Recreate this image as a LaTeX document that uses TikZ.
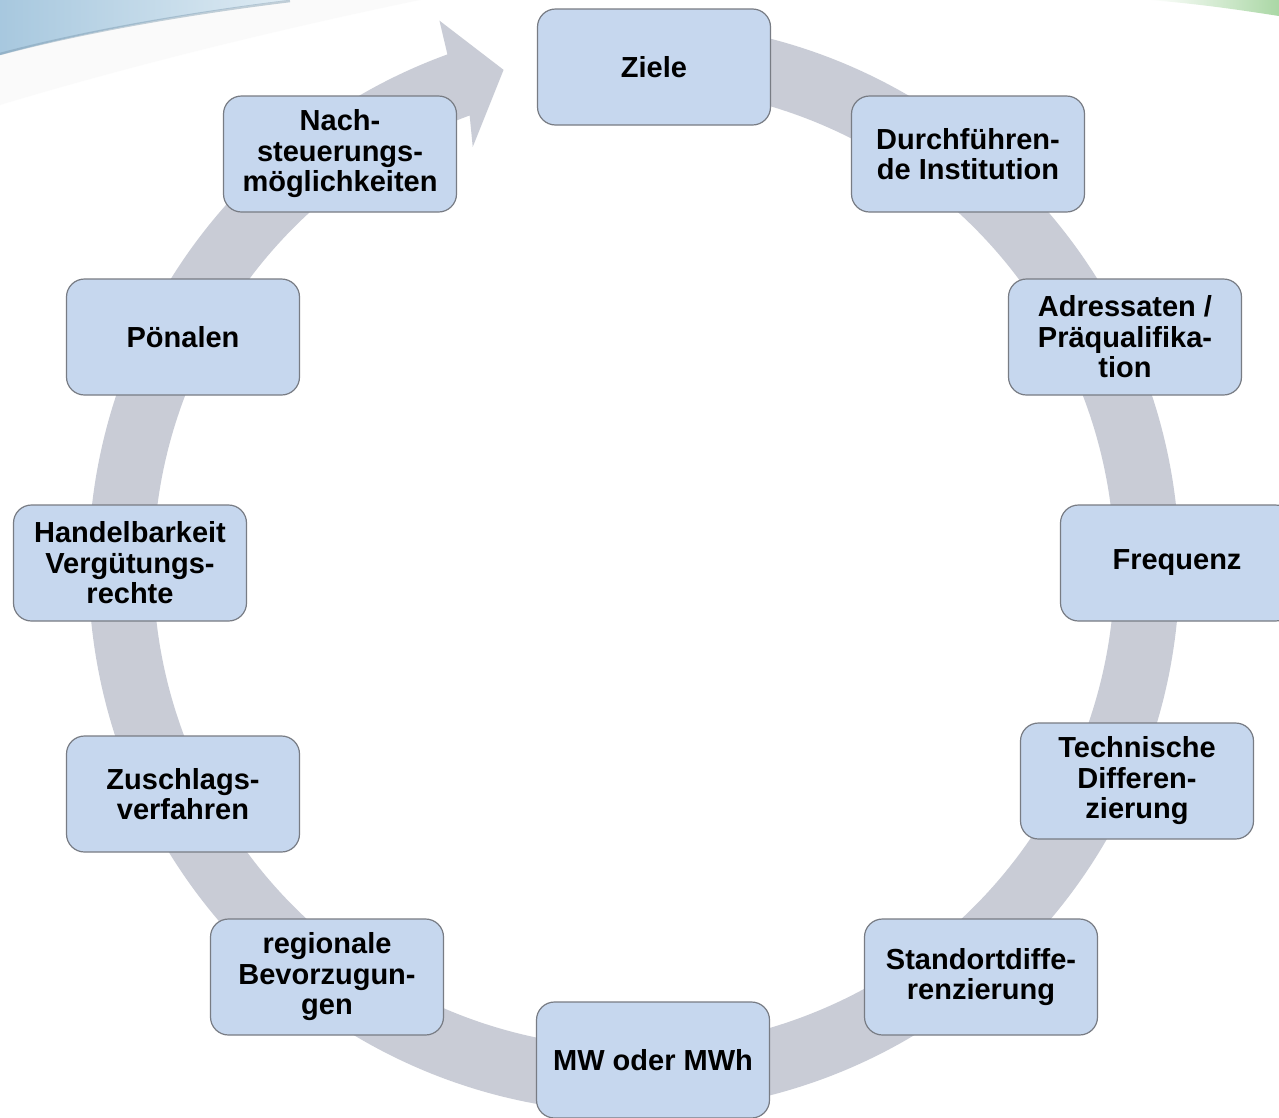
\documentclass[tikz,border=0pt]{standalone}
\usepackage{fontspec}
\setmainfont{Liberation Sans}
\usetikzlibrary{calc}
\definecolor{ringc}{RGB}{201,204,214}
\definecolor{boxfill}{RGB}{198,215,238}
\definecolor{boxline}{RGB}{120,124,132}
\definecolor{swooshA}{RGB}{120,170,205}
\definecolor{swooshB}{RGB}{222,235,243}
\definecolor{swooshG}{RGB}{170,215,165}
\tikzset{
  stepbox/.style={draw=boxline, line width=1.2pt, fill=boxfill, rounded corners=18pt,
    minimum width=233pt, minimum height=116pt, align=center, inner sep=2pt,
    font=\fontsize{29pt}{30.5pt}\selectfont\bfseries, text=black},
}
\begin{document}
\begin{tikzpicture}[x=1pt,y=1pt]
\useasboundingbox (0,0) rectangle (1279,-1117);
\clip (0,0) rectangle (1279,-1117);
\fill[white] (0,0) rectangle (1279,-1117);
% background swooshes
\fill[black!3, opacity=0.5] (0,-55) .. controls (90,-30) and (200,-12) .. (290,0) -- (420,0) .. controls (300,-25) and (150,-60) .. (0,-105) -- cycle;
\shade[left color=swooshA!65, right color=swooshB] (0,0) -- (290,0) .. controls (200,-12) and (90,-30) .. (0,-55) -- cycle;
\draw[swooshA!60!gray, line width=2.5pt, opacity=0.45] (290,-1) .. controls (200,-12) and (90,-30) .. (0,-54);
\shade[left color=white, right color=swooshG] (1150,0) -- (1279,0) -- (1279,-16) .. controls (1240,-10) and (1200,-4) .. (1150,0) -- cycle;
% ring with arrow
\coordinate (c) at (634,-567);
\fill[ringc] ($(c)+(95:545.5)$) arc[start angle=95, end angle=-250, radius=545.5]
  -- ($(c)+(-250.4:580)$) -- ($(c)+(-255.3:514)$) -- ($(c)+(-249:450)$)
  -- ($(c)+(-250:480.5)$) arc[start angle=-250, end angle=95, radius=480.5] -- cycle;
% nodes
\node[stepbox] (ziele)  at (654,-67)   {Ziele};
\node[stepbox] (durch)  at (968,-154)  {Durchführen-\\de Institution};
\node[stepbox] (adress) at (1125,-337) {Adressaten /\\Präqualifika-\\tion};
\node[stepbox] (freq)   at (1177,-563) {Frequenz};
\node[stepbox] (tech)   at (1137,-781) {Technische\\Differen-\\zierung};
\node[stepbox] (stand)  at (981,-977)  {Standortdiffe-\\renzierung};
\node[stepbox] (mw)     at (653,-1060) {MW oder MWh};
\node[stepbox] (regio)  at (327,-977)  {regionale\\Bevorzugun-\\gen};
\node[stepbox] (zusch)  at (183,-794)  {Zuschlags-\\verfahren};
\node[stepbox] (handel) at (130,-563)  {Handelbarkeit\\Vergütungs-\\rechte};
\node[stepbox] (poen)   at (183,-337)  {Pönalen};
\node[stepbox] (nach)   at (340,-154)  {Nach-\\steuerungs-\\möglichkeiten};
\end{tikzpicture}
\end{document}
